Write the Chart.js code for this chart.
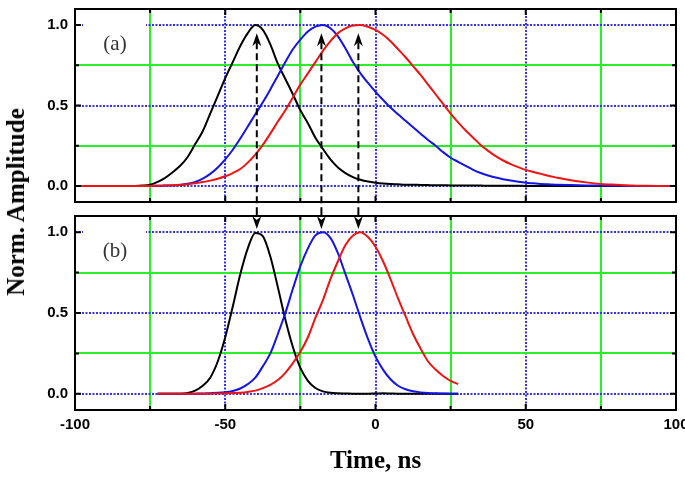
<!DOCTYPE html>
<html>
<head>
<meta charset="utf-8">
<script src="https://cdn.jsdelivr.net/npm/chart.js@4"></script>
<style>
  html, body { margin: 0; padding: 0; background: #fff; overflow: hidden; width: 685px; height: 486px; }
  #wrap { position: relative; width: 685px; height: 486px; overflow: hidden; }
  canvas { position: absolute; left: 0; }
  #grafA { top: 0; }
  #grafB { top: 209px; }
  #ytitle {
    position: absolute; left: 16px; top: 202px;
    transform: translate(-50%, -50%) rotate(-90deg);
    font: bold 25px "Liberation Serif", serif; white-space: nowrap; color: #000;
  }
</style>
</head>
<body>
<div id="wrap">
  <canvas id="grafA" width="700" height="209"></canvas>
  <canvas id="grafB" width="700" height="277"></canvas>
  <div id="ytitle">Norm. Amplitude</div>
</div>
<script>
// panel (a): pulsos de entrada (eje de tiempo en ns)
const tiempoA = [
  -100, -90, -80, -77.5, -75, -72.5, -70, -67.5, -65, -62.5,
  -60, -57.5, -55, -52.5, -50, -47.5, -45, -42.5, -40, -37.5,
  -35, -32.5, -30, -27.5, -25, -22.5, -20, -17.5, -15, -12.5,
  -10, -7.5, -5, -2.5, 0, 2.5, 5, 7.5, 10, 12.5,
  15, 17.5, 20, 22.5, 25, 27.5, 30, 32.5, 35, 37.5,
  40, 42.5, 45, 47.5, 50, 52.5, 55, 57.5, 60, 65,
  70, 75, 80, 85, 90, 95, 100
];
const negroA = [
  0, 0, 0, 0.002, 0.008, 0.025, 0.05, 0.085, 0.125, 0.18,
  0.26, 0.34, 0.45, 0.56, 0.67, 0.77, 0.87, 0.95, 1.0, 0.97,
  0.88, 0.76, 0.665, 0.57, 0.47, 0.39, 0.3, 0.23, 0.165, 0.115,
  0.08, 0.055, 0.038, 0.027, 0.02, 0.015, 0.012, 0.01, 0.008, 0.007,
  0.006, 0.005, 0.004, 0.004, 0.003, 0.003, 0.002, 0.002, 0.002, 0.001,
  0.001, 0.001, 0.001, 0.001, 0, 0, 0, 0, 0, 0,
  0, 0, 0, 0, 0, 0, 0
];
const azulA = [
  0, 0, 0, 0, 0, 0.001, 0.002, 0.003, 0.006, 0.013,
  0.025, 0.045, 0.075, 0.115, 0.165, 0.225, 0.295, 0.37, 0.445, 0.52,
  0.6, 0.685, 0.77, 0.85, 0.91, 0.96, 0.99, 1.0, 0.98, 0.93,
  0.855, 0.77, 0.7, 0.64, 0.585, 0.535, 0.487, 0.445, 0.405, 0.365,
  0.325, 0.285, 0.25, 0.21, 0.175, 0.15, 0.125, 0.1, 0.08, 0.065,
  0.052, 0.042, 0.033, 0.026, 0.02, 0.016, 0.012, 0.01, 0.008, 0.005,
  0.003, 0.002, 0.001, 0, 0, 0, 0
];
const rojoA = [
  0, 0, 0, 0, 0, 0.001, 0.002, 0.004, 0.007, 0.011,
  0.017, 0.024, 0.033, 0.045, 0.06, 0.08, 0.105, 0.145, 0.195, 0.255,
  0.325, 0.4, 0.47, 0.55, 0.63, 0.7, 0.77, 0.84, 0.9, 0.95,
  0.98, 0.997, 1.0, 0.99, 0.97, 0.94, 0.9, 0.85, 0.8, 0.745,
  0.69, 0.63, 0.57, 0.51, 0.45, 0.395, 0.345, 0.3, 0.255, 0.218,
  0.185, 0.158, 0.136, 0.117, 0.1, 0.087, 0.075, 0.063, 0.053, 0.035,
  0.022, 0.012, 0.007, 0.003, 0.001, 0, 0
];

// panel (b): pulsos comprimidos
const tiempoB = [
  -72.5, -70, -67.5, -65, -62.5, -60, -57.5, -55, -52.5, -50,
  -47.5, -45, -42.5, -40, -37.5, -35, -32.5, -30, -27.5, -25,
  -22.5, -20, -17.5, -15, -12.5, -10, -7.5, -5, -2.5, 0,
  2.5, 5, 7.5, 10, 12.5, 15, 17.5, 20, 22.5, 25,
  27.5
];
const negroB = [
  0, 0, 0, 0.001, 0.006, 0.02, 0.05, 0.1, 0.2, 0.35,
  0.54, 0.74, 0.9, 0.995, 0.975, 0.85, 0.66, 0.46, 0.29, 0.16,
  0.08, 0.036, 0.015, 0.006, 0.003, 0.002, 0.001, 0.001, 0.001, 0.002,
  0.003, 0.002, 0.001, 0.001, 0, 0, 0, 0, 0, 0,
  0
];
const azulB = [
  0, 0, 0, 0, 0, 0.001, 0.002, 0.004, 0.006, 0.01,
  0.018, 0.033, 0.06, 0.1, 0.17, 0.25, 0.37, 0.5, 0.65, 0.79,
  0.9, 0.98, 1.0, 0.965, 0.87, 0.74, 0.61, 0.47, 0.34, 0.23,
  0.15, 0.09, 0.05, 0.028, 0.016, 0.009, 0.005, 0.003, 0.002, 0.001,
  0.001
];
const rojoB = [
  0, 0, 0, 0, 0, 0, 0.001, 0.001, 0.002, 0.003,
  0.005, 0.007, 0.012, 0.02, 0.035, 0.055, 0.085, 0.13, 0.19, 0.26,
  0.35, 0.47, 0.58, 0.71, 0.82, 0.92, 0.98, 1.0, 0.97, 0.91,
  0.82, 0.71, 0.59, 0.48, 0.37, 0.28, 0.2, 0.15, 0.11, 0.08,
  0.06
];

// flechas que unen los picos
const flechaX = [-39.5, -18, -5.7];
const puntaA = 0.95;
const puntaB = 1.02;

const ticksX = { min: -100, max: 100, paso: 25 };
const ticksY = { min: -0.1, max: 1.1, paso: 0.25 };

const AZUL_GRID = '#3535e0';
const VERDE_GRID = '#2aee2a';

function esMayorX(v) { return Math.abs(v % 50) < 1e-9; }
function esMayorY(v) { return Math.abs(Math.round(v * 2) - v * 2) < 1e-9; }

// punta de flecha tipo "stealth"
function punta(ctx, x, y, dir) {
  const L = 13, W = 4.5, n = 4;
  ctx.beginPath();
  ctx.moveTo(x, y);
  ctx.lineTo(x - W, y - dir * L);
  ctx.lineTo(x, y - dir * (L - n));
  ctx.lineTo(x + W, y - dir * L);
  ctx.closePath();
  ctx.fill();
}

const marco = {
  id: 'marco',
  beforeDatasetsDraw(chart, args, o) {
    const ctx = chart.ctx, a = chart.chartArea;
    ctx.save();
    ctx.fillStyle = '#fff';
    ctx.fillRect(a.left + 8, a.top + 11, 63, 40);
    ctx.fillStyle = '#333';
    ctx.font = '21px "Liberation Serif"';
    ctx.textAlign = 'center';
    ctx.textBaseline = 'middle';
    ctx.fillText(o.etiqueta, a.left + 40, a.top + 35);
    ctx.restore();
  },
  afterDatasetsDraw(chart, args, o) {
    const ctx = chart.ctx, a = chart.chartArea;
    const x = chart.scales.x, y = chart.scales.y;
    ctx.save();
    ctx.strokeStyle = '#000';
    ctx.lineWidth = 2;
    ctx.strokeRect(a.left, a.top, a.right - a.left, a.bottom - a.top);
    // marcas hacia dentro en los cuatro lados
    ctx.beginPath();
    x.ticks.forEach(t => {
      const px = x.getPixelForValue(t.value);
      const len = esMayorX(t.value) ? 6 : 4;
      ctx.moveTo(px, a.top); ctx.lineTo(px, a.top + len);
      ctx.moveTo(px, a.bottom); ctx.lineTo(px, a.bottom - len);
    });
    y.ticks.forEach(t => {
      const py = y.getPixelForValue(t.value);
      const len = esMayorY(t.value) ? 6 : 4;
      ctx.moveTo(a.left, py); ctx.lineTo(a.left + len, py);
      ctx.moveTo(a.right, py); ctx.lineTo(a.right - len, py);
    });
    ctx.stroke();

    // flechas discontinuas
    ctx.fillStyle = '#000';
    flechaX.forEach(v => {
      const px = x.getPixelForValue(v);
      ctx.setLineDash([7, 4]);
      ctx.beginPath();
      if (o.flecha === 'arriba') {
        const tip = y.getPixelForValue(puntaA);
        ctx.moveTo(px, tip + 9);
        ctx.lineTo(px, chart.height);
        ctx.stroke();
        ctx.setLineDash([]);
        punta(ctx, px, tip, -1);
      } else {
        const tip = y.getPixelForValue(puntaB);
        ctx.moveTo(px, 0);
        ctx.lineTo(px, tip - 9);
        ctx.stroke();
        ctx.setLineDash([]);
        punta(ctx, px, tip, 1);
      }
    });
    ctx.restore();
  }
};

function serie(xs, ys, color, orden) {
  return {
    data: xs.map((t, i) => ({ x: t, y: ys[i] })),
    borderColor: color,
    borderWidth: 2,
    pointRadius: 0,
    cubicInterpolationMode: 'monotone',
    fill: false,
    order: orden
  };
}

function crearPanel(id, xs, negro, azul, rojo, conEjeX, etiqueta, flecha, padding) {
  const ctx = document.getElementById(id).getContext('2d');
  return new Chart(ctx, {
    type: 'line',
    data: {
      datasets: [
        serie(xs, negro, '#000000', 3),
        serie(xs, azul, '#1414e6', 2),
        serie(xs, rojo, '#ee1414', 1)
      ]
    },
    plugins: [marco],
    options: {
      responsive: false,
      animation: false,
      layout: { padding: padding },
      plugins: {
        legend: { display: false },
        tooltip: { enabled: false },
        marco: { etiqueta: etiqueta, flecha: flecha }
      },
      scales: {
        x: {
          type: 'linear',
          min: ticksX.min,
          max: ticksX.max,
          afterFit: s => { s.paddingLeft = 0; s.paddingRight = 0; },
          grid: {
            color: c => esMayorX(c.tick.value) ? AZUL_GRID : VERDE_GRID,
            lineWidth: 2,
            drawTicks: false
          },
          border: { display: false, dash: c => esMayorX(c.tick.value) ? [2, 1.5] : [] },
          ticks: {
            display: conEjeX,
            stepSize: ticksX.paso,
            autoSkip: false,
            maxRotation: 0,
            padding: 6,
            color: '#000',
            font: { family: 'Liberation Sans', size: 15, weight: 'bold' },
            callback: v => esMayorX(v) ? String(v) : ''
          },
          title: {
            display: conEjeX,
            text: 'Time, ns',
            color: '#000',
            font: { family: 'Liberation Serif', size: 25, weight: 'bold' },
            padding: { top: 7, bottom: 4 }
          }
        },
        y: {
          min: ticksY.min,
          max: ticksY.max,
          afterFit: s => { s.width = 75; s.paddingTop = 0; s.paddingBottom = 0; },
          grid: {
            color: c => esMayorY(c.tick.value) ? AZUL_GRID : VERDE_GRID,
            lineWidth: 2,
            drawTicks: false
          },
          border: { display: false, dash: c => esMayorY(c.tick.value) ? [2, 1.5] : [] },
          ticks: {
            stepSize: ticksY.paso,
            includeBounds: false,
            padding: 7,
            color: '#000',
            font: { family: 'Liberation Sans', size: 15, weight: 'bold' },
            callback: v => esMayorY(v) ? v.toFixed(1) : ''
          }
        }
      }
    }
  });
}

crearPanel('grafA', tiempoA, negroA, azulA, rojoA, false, '(a)', 'arriba',
  { left: 0, right: 24, top: 9, bottom: 7 });
crearPanel('grafB', tiempoB, negroB, azulB, rojoB, true, '(b)', 'abajo',
  { left: 0, right: 24, top: 7, bottom: 5 });
</script>
</body>
</html>
